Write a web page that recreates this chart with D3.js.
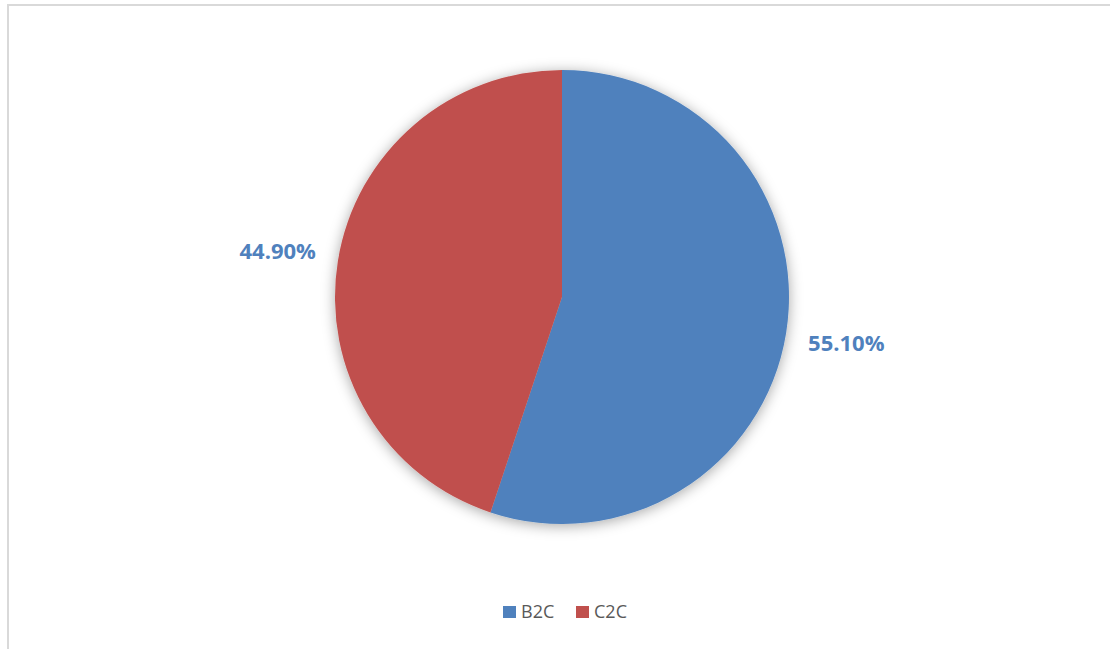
<!DOCTYPE html>
<html>
<head>
<meta charset="utf-8">
<script src="https://cdn.jsdelivr.net/npm/d3@7"></script>
<style>
  html, body { margin: 0; padding: 0; background: #fff; }
  svg { display: block; }
</style>
</head>
<body>
<svg id="chart"></svg>
<script>
let width = 1110, height = 649;

// data
let categories = ["B2C", "C2C"];
let shares = [55.10, 44.90];
let colors = ["#4f81bd", "#c0504d"];

let cx = 562, cy = 297, radius = 227, labelRadius = 288;

let svg = d3.select("#chart")
  .attr("width", width)
  .attr("height", height);

// soft shadow like the office chart
let defs = svg.append("defs");
let f = defs.append("filter")
  .attr("id", "shadow")
  .attr("x", "-20%").attr("y", "-20%")
  .attr("width", "140%").attr("height", "140%");
f.append("feDropShadow")
  .attr("dx", 0).attr("dy", 2)
  .attr("stdDeviation", 7)
  .attr("flood-color", "#000")
  .attr("flood-opacity", 0.35);

// chart area border
svg.append("rect")
  .attr("x", 8).attr("y", 5)
  .attr("width", width + 20).attr("height", height + 20)
  .attr("fill", "#fff")
  .attr("stroke", "#d9d9d9")
  .attr("stroke-width", 2);

let pie = d3.pie().sort(null);
let arcs = pie(shares);

let arc = d3.arc().innerRadius(0).outerRadius(radius);
let labelArc = d3.arc().innerRadius(labelRadius).outerRadius(labelRadius);

let g = svg.append("g")
  .attr("transform", "translate(" + cx + "," + cy + ")");

g.append("g")
  .attr("filter", "url(#shadow)")
  .selectAll("path")
  .data(arcs)
  .enter().append("path")
    .attr("d", arc)
    .attr("fill", (d, i) => colors[i]);

g.selectAll("text.lbl")
  .data(arcs)
  .enter().append("text")
    .attr("class", "lbl")
    .attr("transform", d => "translate(" + labelArc.centroid(d) + ")")
    .attr("text-anchor", "middle")
    .attr("dy", "0.36em")
    .attr("font-family", "'Open Sans', 'Liberation Sans', sans-serif")
    .attr("font-weight", "bold")
    .attr("font-size", 22)
    .attr("fill", "#4f81bd")
    .text(d => d.data.toFixed(2) + "%");

// legend
let legend = svg.append("g")
  .attr("transform", "translate(503, 612)");

let legendX = d3.scaleOrdinal()
  .domain(categories)
  .range([0, 73]);

let items = legend.selectAll("g")
  .data(categories)
  .enter().append("g")
    .attr("transform", d => "translate(" + legendX(d) + ",0)");

items.append("rect")
  .attr("x", 0).attr("y", -6)
  .attr("width", 13).attr("height", 12)
  .attr("fill", (d, i) => colors[i]);

items.append("text")
  .attr("x", 18)
  .attr("dy", "0.36em")
  .attr("font-family", "'Open Sans', 'Liberation Sans', sans-serif")
  .attr("font-size", 18)
  .attr("fill", "#595959")
  .text(d => d);
</script>
</body>
</html>
